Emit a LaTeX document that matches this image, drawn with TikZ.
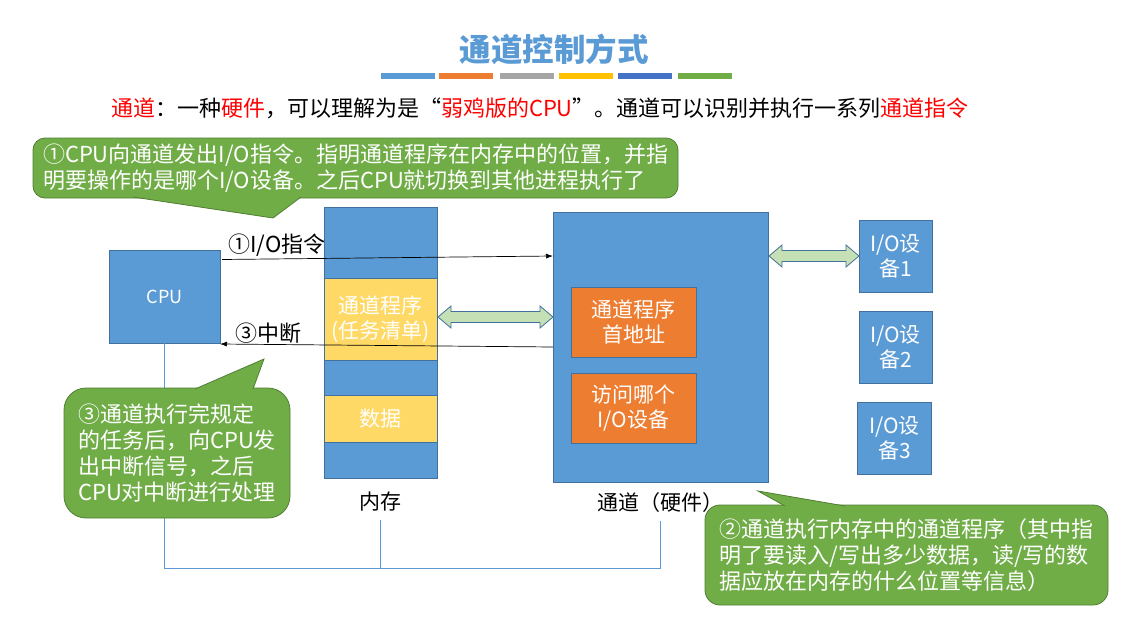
\documentclass[tikz,border=0pt]{standalone}
\usepackage{fontspec}
\setmainfont{Noto Sans CJK SC}
\usetikzlibrary{arrows.meta,calc}
\definecolor{cblue}{HTML}{5B9BD5}
\definecolor{cborder}{HTML}{41719C}
\definecolor{corange}{HTML}{ED7D31}
\definecolor{cyellow}{HTML}{FFD966}
\definecolor{cgreen}{HTML}{70AD47}
\definecolor{cgreenb}{HTML}{507E32}
\definecolor{clgreen}{HTML}{C5E0B4}
\definecolor{cgray}{HTML}{A5A5A5}
\definecolor{cgold}{HTML}{FFC000}
\definecolor{cdblue}{HTML}{4472C4}
\definecolor{cred}{HTML}{FF0000}
\newcommand\fsz[2]{\fontsize{#1}{#2}\selectfont}
\newcommand\dblarr[2]{\draw[dblarrow] (#1) -- ($(#1)+(13,-11)$) -- ($(#1)+(13,-5.5)$) -- ($(#2)+(-13,-5.5)$) -- ($(#2)+(-13,-11)$) -- (#2) -- ($(#2)+(-13,11)$) -- ($(#2)+(-13,5.5)$) -- ($(#1)+(13,5.5)$) -- ($(#1)+(13,11)$) -- cycle;}
\begin{document}
\begin{tikzpicture}[x=1pt,y=-1pt,
  every node/.style={inner sep=0pt,outer sep=0pt},
  box/.style={draw=cborder,line width=0.8pt,fill=cblue,text=white,align=center,font=\fsz{21}{25}},
  ybox/.style={box,fill=cyellow},
  obox/.style={box,fill=corange},
  lbl/.style={text=black,font=\fsz{21}{25}},
  callout/.style={fill=cgreen,draw=cgreenb,line width=0.8pt,text=white,align=left,font=\fsz{22}{26}},
  ptr/.style={fill=cgreen,draw=cgreenb,line width=0.8pt,line join=miter},
  sig/.style={draw=black,line width=0.7pt,-{Latex[length=7pt,width=5pt]}},
  bus/.style={draw=cblue,line width=1pt},
  dblarrow/.style={fill=clgreen,draw=cborder,line width=0.8pt,line join=miter}
]
\useasboundingbox[fill=white] (0,0) rectangle (1132,621);

% title
\node[text=cblue,font=\fsz{31.5}{36}\bfseries] (title) at (554,49) {通道控制方式};
\fill[cblue]  (381,73) rectangle (435,79);
\fill[corange](439,73) rectangle (493,79);
\fill[cgray]  (500,73) rectangle (554,79);
\fill[cgold]  (559,73) rectangle (613,79);
\fill[cdblue] (618,73) rectangle (672,79);
\fill[cgreen] (678,73) rectangle (732,79);

% subtitle
\node[anchor=west,text=black,font=\fsz{22}{26}] (sub) at (111,108)
  {{\color{cred}通道}：一种{\color{cred}硬件}，可以理解为是“{\color{cred}弱鸡版的CPU}”。通道可以识别并执行一系列{\color{cred}通道指令}};

% CPU
\node[box,minimum width=111pt,minimum height=93pt,font=\fsz{18}{21}] (cpu) at (164.5,296.5) {CPU};

% memory
\node[box,minimum width=113pt,minimum height=71pt] (memtop) at (380.5,242.5) {};
\node[ybox,minimum width=113pt,minimum height=82pt] (prog) at (380.5,319) {通道程序\\(任务清单)};
\node[box,minimum width=113pt,minimum height=35pt] (memmid) at (380.5,377.5) {};
\node[ybox,minimum width=113pt,minimum height=47pt] (data) at (380.5,418.5) {数据};
\node[box,minimum width=113pt,minimum height=36pt] (membot) at (380.5,460) {};
\node[lbl] (memlbl) at (380.5,502) {内存};

% channel
\node[box,minimum width=215pt,minimum height=270pt] (chan) at (660.5,347) {};
\node[obox,minimum width=125pt,minimum height=70pt] (or1) at (633.5,322) {通道程序\\首地址};
\node[obox,minimum width=125pt,minimum height=70pt] (or2) at (633.5,408) {访问哪个\\I/O设备};
\node[lbl] (chanlbl) at (660.5,503) {通道（硬件）};

% IO devices
\node[box,minimum width=73pt,minimum height=72pt] (io1) at (895.5,256) {I/O设\\备1};
\node[box,minimum width=73pt,minimum height=72pt] (io2) at (895.5,347) {I/O设\\备2};
\node[box,minimum width=74pt,minimum height=72pt] (io3) at (894.5,438) {I/O设\\备3};

% double arrows
\coordinate (a1) at ([xshift=1pt,yshift=2pt]prog.east);
\coordinate (b1) at ([yshift=30pt]chan.west);
\dblarr{a1}{b1}
\coordinate (a2) at ([xshift=1pt,yshift=91pt]chan.east);
\coordinate (b2) at (io1.west);
\dblarr{a2}{b2}

% signal arrows
\draw[sig] ([xshift=2pt,yshift=37pt]cpu.east) -- ([yshift=91pt]chan.west);
\draw[sig] (chan.west) -- ([yshift=-47.5pt]cpu.east);
\node[text=black,font=\fsz{22}{26}] (l1) at (277,245) {①I/O指令};
\node[text=black,font=\fsz{22}{26}] (l3) at (268,333) {③中断};

% bus
\coordinate (busy) at (0,568);
\coordinate (memtap) at ([yshift=-8pt]memlbl.south);
\coordinate (chantap) at ([yshift=-8pt]chanlbl.south);
\draw[bus] (cpu.south) -- (cpu.south |- busy) -- (chantap |- busy) -- (chantap);
\draw[bus] (memtap) -- (memtap |- busy);

% callout 1
\node[callout,rounded corners=12pt,minimum width=645pt,minimum height=60pt] (c1) at (355.5,168)
  {①CPU向通道发出I/O指令。指明通道程序在内存中的位置，并指\\明要操作的是哪个I/O设备。之后CPU就切换到其他进程执行了};
\coordinate (t1) at (273,218);
\filldraw[ptr] (133,197) -- (t1) -- (301,197);

% callout 3
\node[callout,rounded corners=22pt,minimum width=226pt,minimum height=130pt] (c3) at (177,453)
  {③通道执行完规定\\的任务后，向CPU发\\出中断信号，之后\\CPU对中断进行处理};
\coordinate (t3) at (264,359);
\filldraw[ptr] (195,389) -- (t3) -- (253,389);

% callout 2
\node[callout,rounded corners=15pt,minimum width=403pt,minimum height=100pt] (c2) at (906.5,555)
  {②通道执行内存中的通道程序（其中指\\明了要读入/写出多少数据，读/写的数\\据应放在内存的什么位置等信息）};
\coordinate (t2) at (758,491);
\filldraw[ptr] (785,506) -- (t2) -- (845,506);
\end{tikzpicture}
\end{document}
